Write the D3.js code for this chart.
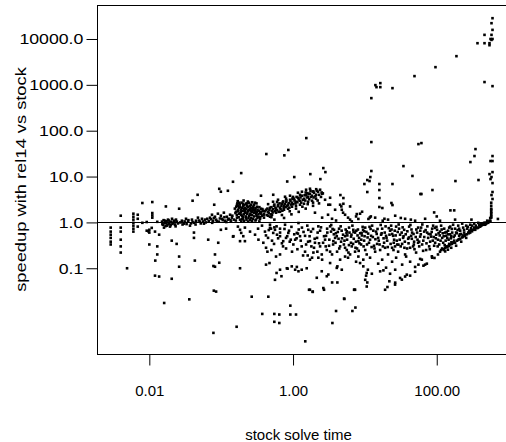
<!DOCTYPE html>
<html>
<head>
<meta charset="utf-8">
<script src="https://d3js.org/d3.v7.min.js"></script>
<style>
  body { margin: 0; background: #fff; }
  svg text { font-family: "Liberation Sans", Arial, sans-serif; fill: #000; }
</style>
</head>
<body>
<div id="chart"></div>
<script>
// axis ticks and labels
const xTicks = [0.01, 1, 100]
const xTickLabels = ['0.01', '1.00', '100.00']
const yTicks = [0.1, 1, 10, 100, 1000, 10000]
const yTickLabels = ['0.1', '1.0', '10.0', '100.0', '1000.0', '10000.0']
const xTitle = 'stock solve time'
const yTitle = 'speedup with rel14 vs stock'

// [stock solve time, speedup] pairs
const runs = [
  // short runs on the left
  [0.0029, 0.77], [0.0029, 0.63], [0.0029, 0.54], [0.0029, 0.46], [0.0029, 0.38], [0.0029, 0.33],
  [0.0040, 1.40], [0.0040, 0.77], [0.0040, 0.63], [0.0040, 0.42], [0.0040, 0.30], [0.0040, 0.22],
  [0.0049, 0.10],
  [0.0060, 1.55], [0.0060, 1.33], [0.0060, 1.15], [0.0060, 0.98], [0.0060, 0.85], [0.0060, 0.73], [0.0060, 0.63],
  [0.0069, 1.47], [0.0069, 1.20], [0.0069, 0.81], [0.0080, 2.65], [0.0080, 0.98],
  [0.0092, 1.02], [0.0092, 0.66], [0.0097, 0.64], [0.010, 0.69], [0.010, 0.60], [0.010, 0.33],
  [0.0108, 0.76], [0.011, 2.78], [0.011, 1.60], [0.011, 1.42], [0.011, 1.27],
  [0.0121, 0.147], [0.012, 0.63], [0.012, 0.069], [0.0129, 1.03], [0.0129, 0.30], [0.0129, 0.20],
  [0.0137, 0.54], [0.0137, 0.066], [0.0161, 0.0175], [0.017, 2.23],
  [0.0150, 1.04], [0.0155, 0.89], [0.0160, 0.77], [0.0165, 1.09], [0.0170, 0.98], [0.0176, 0.85],
  [0.0182, 1.15], [0.0188, 0.94], [0.0194, 0.81], [0.0200, 1.04], [0.0207, 1.20], [0.0213, 0.98],
  [0.0220, 1.09], [0.0228, 0.89], [0.0235, 1.15], [0.0242, 1.04],
  [0.0205, 0.40], [0.0205, 0.059], [0.024, 0.34], [0.026, 1.99], [0.026, 0.18], [0.026, 0.108],
  [0.036, 0.021], [0.040, 2.97], [0.047, 4.0], [0.043, 0.147],
  [0.0284, 1.09], [0.0303, 0.94], [0.0324, 1.20], [0.0345, 1.04], [0.0368, 0.85], [0.0392, 1.15],
  [0.0418, 0.98], [0.0446, 1.09], [0.0475, 1.27], [0.0507, 1.04], [0.054, 1.20], [0.0576, 0.94], [0.0595, 1.15],
  [0.0418, 0.60], [0.0418, 0.46], [0.066, 0.42], [0.080, 2.43], [0.082, 0.20], [0.082, 0.108],
  [0.079, 0.0325], [0.085, 0.031], [0.091, 0.36], [0.094, 5.4], [0.094, 0.132], [0.099, 4.67],
  [0.099, 0.69], [0.124, 4.9], [0.117, 0.73], [0.146, 7.7], [0.146, 0.49], [0.078, 0.112],
  [0.070, 1.27], [0.0745, 1.47], [0.077, 1.09], [0.082, 1.33], [0.085, 1.15], [0.090, 1.55],
  [0.093, 1.04], [0.099, 1.40], [0.103, 1.20], [0.109, 1.63], [0.113, 1.09], [0.120, 1.33],
  [0.124, 1.15], [0.133, 1.47], [0.137, 1.04], [0.141, 1.27],
  [0.0152, 0.92], [0.0158, 1.12], [0.0163, 0.96], [0.0168, 0.83], [0.0174, 1.06], [0.0179, 0.9],
  [0.0186, 1.1], [0.0192, 1.0], [0.0198, 0.87], [0.021, 0.93], [0.0225, 1.0], [0.0232, 0.82],
  [0.025, 0.95], [0.027, 1.0], [0.029, 0.9], [0.031, 1.05], [0.033, 0.92], [0.035, 1.12],
  [0.038, 0.95], [0.040, 1.02], [0.044, 0.9], [0.049, 1.1], [0.052, 0.95], [0.056, 1.05],
  [0.061, 1.0], [0.064, 1.2], [0.067, 1.07], [0.072, 1.17], [0.075, 0.98], [0.079, 1.25],
  [0.087, 1.07], [0.096, 1.22], [0.105, 1.12], [0.111, 1.3], [0.118, 1.02], [0.127, 1.2],
  [0.135, 1.12], [0.143, 1.4], [0.150, 1.15],
  // very low speedups
  [0.266, 0.024], [0.453, 0.024], [0.917, 0.0153], [0.373, 0.0101], [0.549, 0.0101], [0.644, 0.0098],
  [0.917, 0.0098], [1.10, 0.0098], [0.549, 0.0068], [0.644, 0.0064], [0.164, 0.0053], [0.078, 0.0039],
  [1.67, 0.034], [1.88, 0.0305], [2.7, 0.034], [7.15, 0.034], [19.1, 0.034], [5.18, 0.0214],
  [3.97, 0.0117], [6.7, 0.0117], [7.38, 0.0139], [3.53, 0.0064], [1.48, 0.00255],
  // high speedups
  [1.53, 69], [0.86, 38], [0.425, 31], [0.757, 29], [2.64, 15.3], [2.82, 12.5], [1.74, 11.3],
  [0.19, 11.9], [1.04, 9.75], [2.4, 8.8], [0.83, 7.8],
  [597, 28400], [578, 22100], [597, 15800], [462, 12300], [578, 12300], [560, 10000], [597, 10000],
  [578, 9550], [369, 8090], [462, 8090], [542, 8090], [542, 7320], [188, 4220], [96, 2430], [49, 1550],
  [14, 986], [16.4, 1090], [16.4, 891], [14.5, 891], [24.2, 847], [462, 1150], [597, 937], [12.3, 513],
  [12.3, 56.5], [55.6, 51], [61.2, 53.7], [346, 39.7], [335, 28], [597, 28], [294, 20.7], [560, 21.8],
  [597, 21.8], [34.4, 16.9], [12.3, 13.2], [11.9, 9.75], [10.8, 8.4], [11.6, 7.98], [9.84, 6.87],
  [15.9, 6.87], [24.2, 6.87], [45.9, 10.3], [182, 7.98], [381, 8.4], [597, 12.5], [578, 9.75],
  [542, 11.3], [560, 8.8], [597, 7.2], [10.8, 4.6], [15.9, 5.08], [15.9, 3.4], [4.56, 3.95],
  [5.02, 3.4], [59.3, 4.16], [61.2, 4.16], [87.1, 5.08], [597, 4.6], [578, 3.95], [597, 3.24],
  [23.4, 2.65], [24.2, 2.39], [15.9, 2.17], [17.5, 2.06], [11.7, 1.28], [11.2, 1.19],
  [573, 1.89], [573, 1.6], [573, 1.35], [555, 1.25], [92, 1.65], [100, 1.35], [155, 1.83], [175, 1.83],
  [31.6, 1.25], [43.6, 1.15], [304, 1.15], [710, 1.19], [4.52, 2.43], [5.02, 2.55], [6.22, 2.23],
  [4.77, 1.89], [3.28, 2.43], [7.71, 1.52], [7.54, 1.35], [12.1, 1.35], [18.7, 1.2], [17.7, 1.09],
  [3.97, 1.1], [6.57, 1.05], [8.11, 1.19],
  [573, 2.69], [573, 2.31], [573, 1.99], [573, 1.71], [573, 1.47], [573, 1.27], [555, 1.09],
  // long runs, low speedup
  [3.28, 0.13], [4.06, 0.102], [4.77, 0.093], [4.14, 0.049], [5.13, 0.0218], [7.07, 0.034],
  [10.4, 0.069], [12.5, 0.076], [10.8, 0.049], [20.6, 0.039], [21.9, 0.052], [26.3, 0.044],
  [30.9, 0.0615], [32.7, 0.0565], [38.3, 0.0726], [42.6, 0.069], [50, 0.107], [55.6, 0.12],
  [65.3, 0.114], [72.8, 0.126], [16.3, 0.0856], [18.1, 0.09], [26.3, 0.30], [29.3, 0.327],
  [85.5, 0.182], [92.9, 0.168], [131, 0.233], [143, 0.254], [58.7, 0.16], [62, 0.154], [22.4, 0.076], [11, 0.093],
  [26.4, 0.0486], [36.3, 0.066], [50, 0.084], [68.9, 0.12], [86.3, 0.17], [104, 0.20],
  // timeout streak
  [111, 0.23], [119, 0.27], [127, 0.25], [135, 0.30], [144, 0.30], [154, 0.33], [159, 0.28], [169, 0.36],
  [180, 0.36], [186, 0.31], [199, 0.42], [212, 0.44], [219, 0.38], [233, 0.49], [249, 0.54], [257, 0.46],
  [274, 0.60], [292, 0.60], [301, 0.66], [321, 0.69], [343, 0.69], [354, 0.77], [378, 0.77], [402, 0.81],
  [415, 0.85], [443, 0.89], [472, 0.89], [488, 0.94], [520, 0.98], [537, 1.04], [555, 1.04], [504, 1.09],
  [457, 0.98], [390, 0.89], [332, 0.77], [283, 0.66], [241, 0.60], [205, 0.51], [175, 0.40], [149, 0.34],
  [115, 0.25], [122, 0.26], [131, 0.28], [139, 0.29], [147, 0.31], [163, 0.34], [172, 0.37], [192, 0.40],
  [206, 0.43], [226, 0.47], [245, 0.51], [263, 0.55], [280, 0.58], [310, 0.64], [337, 0.70], [366, 0.75],
  [395, 0.82], [425, 0.88], [450, 0.93], [480, 0.99], [510, 1.03], [545, 1.08], [160, 0.37], [230, 0.52],
  [300, 0.68], [410, 0.90],
  // dense cluster near 0.2 - 0.4 s
  [0.166, 2.43], [0.171, 1.89], [0.177, 1.55], [0.183, 2.20], [0.189, 1.71], [0.195, 1.40], [0.201, 2.56],
  [0.208, 1.99], [0.214, 1.63], [0.221, 1.27], [0.229, 2.31], [0.236, 1.80], [0.244, 2.69], [0.252, 1.47],
  [0.260, 2.09], [0.269, 1.71], [0.277, 1.20], [0.286, 2.43], [0.296, 1.89], [0.305, 1.55], [0.315, 2.20],
  [0.326, 1.33], [0.336, 1.80], [0.347, 1.63], [0.358, 1.99], [0.370, 1.40], [0.382, 1.80], [0.166, 1.27],
  [0.183, 1.15], [0.208, 1.09], [0.236, 1.04], [0.269, 1.09], [0.305, 1.15], [0.347, 1.20], [0.201, 1.33],
  [0.229, 1.55], [0.260, 2.43], [0.296, 2.69], [0.177, 2.69], [0.171, 2.31], [0.195, 2.09], [0.221, 2.56],
  [0.252, 1.99], [0.286, 1.63], [0.189, 1.47], [0.214, 1.89], [0.244, 1.40], [0.277, 2.09], [0.315, 1.71],
  [0.358, 1.55], [0.161, 1.71],
  [0.155, 2.0], [0.158, 1.6], [0.162, 2.2], [0.165, 1.45], [0.168, 2.6], [0.172, 1.75], [0.175, 1.3],
  [0.178, 2.1], [0.181, 2.45], [0.185, 1.6], [0.188, 1.9], [0.192, 2.7], [0.196, 1.2], [0.199, 1.8],
  [0.203, 2.25], [0.206, 1.5], [0.210, 2.4], [0.213, 1.75], [0.217, 2.05], [0.220, 1.35], [0.224, 1.95],
  [0.228, 2.6], [0.232, 1.65], [0.236, 2.15], [0.240, 1.25], [0.245, 1.85], [0.250, 2.3], [0.255, 1.55],
  [0.260, 1.75], [0.265, 2.0], [0.270, 1.45], [0.275, 1.85], [0.280, 2.2], [0.287, 1.35], [0.293, 1.7],
  [0.300, 2.05], [0.310, 1.4], [0.320, 1.9], [0.330, 1.5], [0.340, 2.15], [0.350, 1.3], [0.360, 1.7],
  [0.375, 1.95], [0.390, 1.45], [0.160, 1.1], [0.190, 1.05], [0.225, 1.15], [0.260, 1.25], [0.300, 1.1],
  [0.340, 1.05], [0.170, 2.9], [0.205, 3.0], [0.235, 2.85], [0.270, 2.75], [0.310, 2.6], [0.200, 1.17],
  [0.250, 1.12], [0.320, 1.25],
  // rising band 0.4 - 2.5 s
  [0.394, 1.55], [0.421, 1.89], [0.449, 1.71], [0.478, 2.09], [0.510, 1.80], [0.544, 2.31], [0.580, 1.99],
  [0.618, 2.43], [0.659, 2.09], [0.703, 2.56], [0.749, 2.31], [0.799, 2.82], [0.852, 2.43], [0.908, 3.12],
  [0.968, 2.69], [1.03, 3.28], [1.10, 2.82], [1.17, 3.45], [1.25, 2.97], [1.33, 3.82], [1.42, 3.28],
  [1.52, 4.01], [1.62, 3.63], [1.72, 4.22], [1.84, 3.82], [1.96, 4.44], [2.09, 4.01], [2.23, 4.67],
  [0.449, 1.40], [0.510, 1.47], [0.580, 1.63], [0.659, 1.71], [0.749, 1.89], [0.852, 1.99], [0.968, 2.20],
  [1.10, 2.31], [1.25, 2.43], [1.42, 2.56], [1.62, 2.82], [1.84, 2.97], [2.09, 3.28],
  [0.394, 1.27], [0.478, 1.33], [0.908, 3.82], [1.17, 4.44], [1.33, 4.67], [1.52, 5.16], [0.774, 3.63],
  [0.618, 3.12], [0.527, 2.82], [2.38, 5.16], [2.54, 4.22], [1.72, 5.42],
  [0.41, 1.75], [0.43, 1.45], [0.44, 2.0], [0.46, 1.6], [0.47, 1.85], [0.49, 1.5], [0.50, 2.15],
  [0.52, 1.65], [0.53, 1.95], [0.55, 2.45], [0.56, 1.75], [0.57, 2.1], [0.60, 1.85], [0.62, 2.25],
  [0.63, 1.7], [0.65, 2.6], [0.67, 1.95], [0.69, 2.3], [0.71, 1.8], [0.72, 2.75], [0.74, 2.05],
  [0.77, 2.5], [0.79, 2.15], [0.81, 3.0], [0.83, 2.3], [0.87, 2.65], [0.89, 2.1], [0.92, 2.9],
  [0.94, 2.45], [0.98, 3.3], [1.00, 2.5], [1.05, 3.0], [1.08, 2.6], [1.12, 3.6], [1.15, 2.75],
  [1.20, 3.15], [1.27, 3.5], [1.30, 2.7], [1.37, 3.1], [1.45, 3.9], [1.48, 3.0], [1.56, 3.5],
  [1.65, 4.2], [1.68, 3.2], [1.78, 3.6], [1.88, 4.7], [1.93, 3.5], [2.05, 3.7], [2.15, 4.9],
  [2.30, 4.0], [2.45, 3.6], [2.60, 4.3],
  [0.45, 2.5], [0.50, 1.3], [0.60, 2.8], [0.70, 1.45], [0.80, 3.3], [0.90, 1.75], [1.00, 3.6],
  [1.10, 2.0], [1.25, 4.0], [1.35, 2.2], [1.50, 4.5], [1.60, 2.5], [1.75, 4.9], [1.90, 2.7],
  [2.10, 5.3], [2.20, 3.0], [0.55, 1.15], [0.75, 1.25], [0.95, 1.5], [1.20, 1.7], [1.50, 2.0],
  [1.90, 2.3], [2.30, 2.6],
  [0.358, 3.82], [0.53, 4.01], [0.73, 2.87], [1.01, 3.23], [2.5, 4.5], [1.92, 4.74], [4.7, 2.23],
  [3.1, 2.43], [1.58, 4.37],
  [2.79, 3.12], [3.28, 3.45], [3.85, 1.89], [3.07, 1.47], [2.54, 1.27], [2.02, 1.63], [3.49, 1.20],
  [5.30, 1.47], [6.22, 1.15], [9.14, 1.71],
  // middle, below 1
  [0.183, 0.69], [0.19, 0.59], [0.203, 0.50], [0.214, 0.39], [0.183, 0.39], [0.148, 0.50], [0.296, 0.54],
  [0.33, 0.42], [0.386, 0.36], [0.421, 0.28], [0.44, 0.23],
  [0.53, 0.59], [0.659, 0.50], [0.73, 0.39], [0.86, 0.59], [0.93, 0.42], [1.01, 0.33], [1.13, 0.59],
  [1.25, 0.50], [1.32, 0.30], [1.47, 0.23], [1.72, 0.39], [1.92, 0.22], [2.02, 0.36], [2.18, 0.23],
  [2.38, 0.30], [2.25, 0.17], [2.51, 0.20], [2.79, 0.42], [2.95, 0.25], [3.28, 0.23], [3.64, 0.39],
  [4.06, 0.50], [4.52, 0.30], [5.3, 0.18], [5.6, 0.25], [6.22, 0.20], [6.57, 0.30], [7.3, 0.23],
  [8.11, 0.18], [8.57, 0.13], [9.5, 0.154], [10.1, 0.25], [10.6, 0.20], [8.11, 0.39], [9.0, 0.59],
  [6.9, 0.69], [5.6, 0.64], [5.3, 0.50], [3.72, 0.69], [3.28, 0.82], [2.25, 0.82], [1.63, 0.69],
  [1.19, 0.97], [0.774, 0.89], [0.561, 0.69], [0.478, 0.76], [0.59, 0.82], [0.478, 0.89],
  [0.183, 0.10], [0.421, 0.12], [0.47, 0.13], [0.58, 0.18], [0.659, 0.20], [0.561, 0.056], [0.69, 0.067],
  [0.82, 0.10], [0.96, 0.11], [1.07, 0.093], [1.19, 0.086], [1.32, 0.093], [1.55, 0.10], [1.72, 0.154],
  [2.51, 0.086], [2.95, 0.067], [3.1, 0.073], [2.14, 0.062], [4.14, 0.11], [9.5, 0.11], [10.6, 0.079],
  [10.1, 0.056], [10.6, 0.04], [7.3, 0.034], [1.72, 0.034], [1.88, 0.031], [2.64, 0.037], [0.59, 0.079],
  [0.659, 0.093], [0.84, 0.098], [1.13, 0.107], [3.5, 0.049],
  [0.214, 0.77], [0.252, 0.63], [0.171, 0.81], [0.326, 0.73],
  [0.370, 0.85], [0.407, 0.63], [0.449, 0.46], [0.494, 0.73], [0.544, 0.34], [0.598, 0.54], [0.659, 0.73],
  [0.726, 0.30], [0.799, 0.46], [0.880, 0.66], [0.968, 0.23], [1.07, 0.42], [1.17, 0.57],
  [1.33, 0.77], [1.47, 0.51], [1.62, 0.38], [1.78, 0.63], [1.96, 0.28], [2.16, 0.46], [2.38, 0.66],
  [2.62, 0.36], [2.88, 0.51], [3.17, 0.31], [1.38, 0.19], [1.84, 0.17], [2.54, 0.154], [2.98, 0.73],
  [3.38, 0.63], [3.61, 0.33], [3.85, 0.46], [4.10, 0.23], [4.37, 0.73], [4.66, 0.38], [4.97, 0.54],
  [5.30, 0.28], [5.65, 0.42], [6.02, 0.77], [6.42, 0.49], [6.85, 0.34], [7.30, 0.60], [7.78, 0.27],
  [8.30, 0.46], [8.85, 0.33], [9.44, 0.69], [9.75, 0.40], [3.49, 0.20], [5.83, 0.17], [7.54, 0.139], [4.52, 0.154],
  [0.42, 0.52], [0.46, 0.68], [0.51, 0.40], [0.55, 0.78], [0.62, 0.45], [0.66, 0.60], [0.70, 0.35],
  [0.76, 0.72], [0.83, 0.50], [0.90, 0.38], [0.95, 0.80], [1.04, 0.55], [1.12, 0.45], [1.20, 0.70],
  [1.28, 0.40], [1.40, 0.62], [1.52, 0.33], [1.58, 0.85], [1.70, 0.50], [1.80, 0.30], [1.90, 0.72],
  [2.00, 0.44], [2.20, 0.60], [2.30, 0.35], [2.45, 0.78], [2.70, 0.50], [2.85, 0.30], [3.00, 0.60],
  [3.20, 0.42], [0.50, 0.25], [0.80, 0.27], [1.15, 0.26], [1.60, 0.19],
  [3.4, 0.88], [3.7, 0.55], [3.9, 0.36], [4.2, 0.62], [4.4, 0.27], [4.6, 0.82], [4.8, 0.45], [5.1, 0.33],
  [5.4, 0.70], [5.7, 0.52], [5.9, 0.22], [6.1, 0.60], [6.4, 0.36], [6.7, 0.85], [7.0, 0.44], [7.4, 0.28],
  [7.6, 0.66], [7.9, 0.52], [8.2, 0.24], [8.6, 0.58], [8.9, 0.42], [9.3, 0.80], [9.6, 0.30], [9.9, 0.50],
  [3.55, 0.72], [3.95, 0.58], [4.3, 0.44], [4.75, 0.66], [5.2, 0.40], [5.55, 0.58], [6.0, 0.32],
  [6.5, 0.54], [6.95, 0.62], [7.5, 0.38], [8.0, 0.70], [8.4, 0.35], [9.1, 0.52], [9.8, 0.64],
  [4.97, 1.63], [5.83, 1.27], [8.57, 1.55], [13.9, 1.27], [21.0, 1.15], [26.4, 1.40], [36.3, 1.20],
  [50.0, 1.09], [68.9, 1.20], [111, 1.09], [180, 1.15],
  // wedge between 10 s and the timeout streak
  [10.1, 0.77], [11.1, 0.57], [11.8, 0.42], [12.6, 0.85], [13.4, 0.31], [14.3, 0.63], [15.3, 0.46],
  [16.3, 0.25], [17.4, 0.73], [18.5, 0.36], [19.7, 0.51], [21.0, 0.20], [22.4, 0.66], [23.9, 0.28],
  [25.5, 0.42], [27.2, 0.81], [29.0, 0.23], [30.9, 0.54], [33.0, 0.34], [35.2, 0.69], [37.5, 0.18],
  [40.0, 0.44], [42.6, 0.28], [45.4, 0.60], [48.4, 0.38], [51.6, 0.22], [55.1, 0.77], [58.7, 0.49],
  [62.6, 0.33], [66.8, 0.63], [71.2, 0.25], [75.9, 0.46], [80.9, 0.38], [86.3, 0.73], [92.0, 0.31],
  [98.1, 0.54], [104, 0.42], [111, 0.63], [119, 0.46], [127, 0.73], [135, 0.51], [144, 0.66], [154, 0.81],
  [164, 0.60], [180, 0.73], [199, 0.85], [212, 0.66], [233, 0.77], [257, 0.85], [292, 0.89], [332, 0.94],
  [378, 0.98], [17.4, 0.154], [23.9, 0.139], [33.0, 0.12], [11.8, 0.17], [15.3, 0.126], [19.7, 0.103],
  [27.2, 0.17], [42.6, 0.139], [13.9, 0.23], [19.1, 0.28], [26.4, 0.093], [36.3, 0.20],
  [10.7, 0.33], [12.2, 0.51], [14.8, 0.34], [16.8, 0.54], [20.4, 0.40], [23.2, 0.85], [24.7, 0.51],
  [28.1, 0.33], [29.9, 0.73], [34.0, 0.46], [38.7, 0.27], [41.3, 0.81], [44.0, 0.51], [46.9, 0.30],
  [53.3, 0.60], [56.9, 0.38], [60.6, 0.77], [64.6, 0.24], [73.5, 0.60], [78.4, 0.30], [83.6, 0.49],
  [89.1, 0.85], [95.0, 0.36], [101, 0.69], [108, 0.33], [115, 0.85], [123, 0.36], [131, 0.60],
  [140, 0.46], [149, 0.77], [159, 0.51], [169, 0.89], [186, 0.60], [205, 0.73], [226, 0.94],
  [265, 0.73], [311, 0.85],
  [10.5, 0.62], [11.4, 0.36], [12.0, 0.72], [12.9, 0.48], [13.6, 0.27], [14.6, 0.56], [15.6, 0.40],
  [16.6, 0.88], [17.8, 0.30], [18.9, 0.60], [20.0, 0.46], [21.5, 0.75], [22.8, 0.34], [24.0, 0.56],
  [25.0, 0.25], [26.0, 0.66], [27.8, 0.40], [29.5, 0.90], [31.5, 0.30], [32.5, 0.60], [34.5, 0.50],
  [36.0, 0.38], [39.0, 0.64], [40.5, 0.35], [43.0, 0.88], [45.0, 0.44], [47.5, 0.56], [49.0, 0.26],
  [52.0, 0.70], [54.0, 0.42], [57.0, 0.30], [60.0, 0.55], [63.0, 0.90], [65.0, 0.40], [70.0, 0.68],
  [72.0, 0.35], [77.0, 0.56], [80.0, 0.26], [85.0, 0.62], [88.0, 0.40], [94.0, 0.76], [97.0, 0.45],
  [103, 0.30], [106, 0.58], [113, 0.40], [117, 0.70], [125, 0.50], [129, 0.32], [137, 0.62], [146, 0.42],
  [152, 0.55], [162, 0.72], [172, 0.48], [190, 0.58], [195, 0.68], [218, 0.56], [240, 0.68], [270, 0.80],
  [300, 0.75], [350, 0.85], [420, 0.93], [460, 0.96],
  [10.9, 0.47], [11.6, 0.80], [12.4, 0.29], [13.1, 0.66], [14.0, 0.43], [15.0, 0.72], [16.0, 0.33],
  [17.1, 0.58], [18.2, 0.45], [19.4, 0.82], [20.8, 0.29], [22.0, 0.54], [23.5, 0.70], [25.2, 0.36],
  [26.8, 0.52], [28.6, 0.62], [30.5, 0.42], [33.5, 0.78], [35.5, 0.28], [37.0, 0.55], [41.0, 0.47],
  [44.5, 0.70], [48.0, 0.33], [51.0, 0.48], [55.0, 0.36], [59.0, 0.66], [67.0, 0.48], [74.0, 0.82],
  [82.0, 0.55], [91.0, 0.48], [99.0, 0.80], [110, 0.52], [121, 0.58], [133, 0.40], [143, 0.55],
  [157, 0.45], [178, 0.52], [210, 0.55]
]

const width = 506
const height = 442
// plot box in pixels (R style frame, right edge runs to the border)
const box = { left: 97, top: 5, right: 506, bottom: 354 }

const x = d3.scaleLog().domain([0.00187, 920]).range([box.left, box.right])
const y = d3.scaleLog().domain([0.00135, 55100]).range([box.bottom, box.top])

const svg = d3
  .select('#chart')
  .append('svg')
  .attr('width', width)
  .attr('height', height)
  .style('display', 'block')

svg.append('rect').attr('width', width).attr('height', height).attr('fill', '#fff')

// points
const size = 2.6
svg
  .append('g')
  .selectAll('rect')
  .data(runs)
  .join('rect')
  .attr('x', (d) => x(d[0]) - size / 2)
  .attr('y', (d) => y(d[1]) - size / 2)
  .attr('width', size)
  .attr('height', size)
  .attr('fill', '#000')

// reference line at speedup 1
svg
  .append('line')
  .attr('x1', box.left)
  .attr('x2', box.right)
  .attr('y1', Math.round(y(1)) + 0.5)
  .attr('y2', Math.round(y(1)) + 0.5)
  .attr('stroke', '#000')

// frame
svg
  .append('rect')
  .attr('x', box.left + 0.5)
  .attr('y', box.top + 0.5)
  .attr('width', box.right - box.left)
  .attr('height', box.bottom - box.top)
  .attr('fill', 'none')
  .attr('stroke', '#000')

// axes
const xAxis = d3
  .axisBottom(x)
  .tickValues(xTicks)
  .tickFormat((d, i) => xTickLabels[i])
  .tickSize(11)
  .tickPadding(20)

const gx = svg
  .append('g')
  .attr('transform', `translate(0,${box.bottom + 0.5})`)
  .call(xAxis)
gx.select('.domain').remove()
gx.selectAll('line').attr('stroke', '#000')
gx.selectAll('text').style('font-size', '15px').attr('fill', '#000')

const yAxis = d3
  .axisLeft(y)
  .tickValues(yTicks)
  .tickFormat((d, i) => yTickLabels[i])
  .tickSize(11)
  .tickPadding(1)

const gy = svg
  .append('g')
  .attr('transform', `translate(${box.left + 0.5},0)`)
  .call(yAxis)
gy.select('.domain').remove()
gy.selectAll('line').attr('stroke', '#000')
// the y side labels are drawn a little wider in the original
gy.selectAll('text')
  .style('font-size', '15px')
  .attr('fill', '#000')
  .attr('transform', 'scale(1.18,1)')

// axis titles
svg
  .append('text')
  .attr('x', (box.left + box.right) / 2 - 3)
  .attr('y', 440)
  .attr('text-anchor', 'middle')
  .style('font-size', '15px')
  .text(xTitle)

svg
  .append('text')
  .attr('transform', 'translate(25.5,179.5) rotate(-90) scale(1.22,1)')
  .attr('text-anchor', 'middle')
  .style('font-size', '15px')
  .text(yTitle)
</script>
</body>
</html>
